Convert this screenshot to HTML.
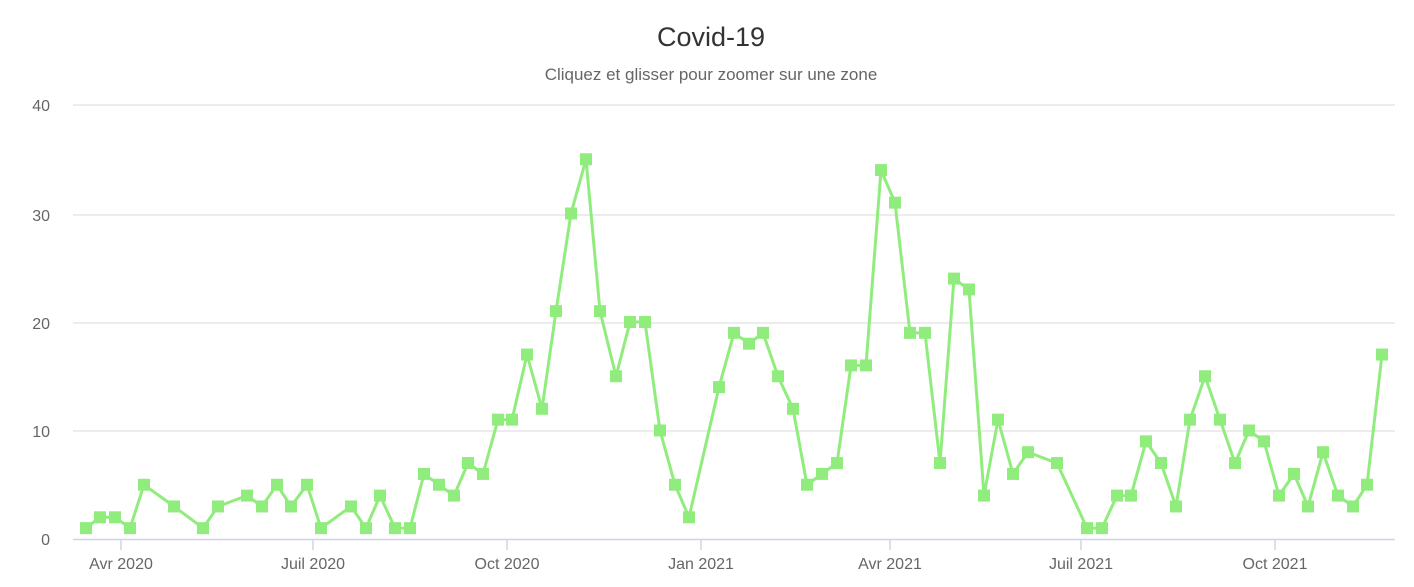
<!DOCTYPE html>
<html><head><meta charset="utf-8"><style>
body{margin:0;background:#fff;}
svg{display:block;font-family:"Liberation Sans","DejaVu Sans",sans-serif;}
</style></head><body>
<svg width="1414" height="587" viewBox="0 0 1414 587">
<rect width="1414" height="587" fill="#fff"/>
<text x="711" y="46" text-anchor="middle" font-size="27" fill="#333">Covid-19</text>
<text x="711" y="80" text-anchor="middle" font-size="17" fill="#666">Cliquez et glisser pour zoomer sur une zone</text>
<g stroke="#e6e6e6" stroke-width="1.5">
<line x1="73" x2="1395" y1="105" y2="105"/>
<line x1="73" x2="1395" y1="215" y2="215"/>
<line x1="73" x2="1395" y1="323" y2="323"/>
<line x1="73" x2="1395" y1="431" y2="431"/>
</g>
<line x1="73" x2="1395" y1="539.5" y2="539.5" stroke="#ccd6eb" stroke-width="1.5"/>
<g stroke="#ccd6eb" stroke-width="1.5">
<line x1="121" x2="121" y1="540" y2="550"/><line x1="313" x2="313" y1="540" y2="550"/>
<line x1="507" x2="507" y1="540" y2="550"/><line x1="701" x2="701" y1="540" y2="550"/>
<line x1="890" x2="890" y1="540" y2="550"/><line x1="1081" x2="1081" y1="540" y2="550"/>
<line x1="1275" x2="1275" y1="540" y2="550"/>
</g>
<g font-size="16" fill="#666" text-anchor="end">
<text x="50" y="111">40</text><text x="50" y="221">30</text><text x="50" y="329">20</text><text x="50" y="437">10</text><text x="50" y="545">0</text>
</g>
<g font-size="16" fill="#666" text-anchor="middle">
<text x="121" y="569">Avr 2020</text><text x="313" y="569">Juil 2020</text><text x="507" y="569">Oct 2020</text>
<text x="701" y="569">Jan 2021</text><text x="890" y="569">Avr 2021</text><text x="1081" y="569">Juil 2021</text><text x="1275" y="569">Oct 2021</text>
</g>
<g id="s"></g>
</svg>
<script>
var d=[[86,1],[100,2],[115,2],[130,1],[144,5],[174,3],[203,1],[218,3],[247,4],[262,3],[277,5],[291,3],[307,5],[321,1],[351,3],[366,1],[380,4],[395,1],[410,1],[424,6],[439,5],[454,4],[468,7],[483,6],[498,11],[512,11],[527,17],[542,12],[556,21],[571,30],[586,35],[600,21],[616,15],[630,20],[645,20],[660,10],[675,5],[689,2],[719,14],[734,19],[749,18],[763,19],[778,15],[793,12],[807,5],[822,6],[837,7],[851,16],[866,16],[881,34],[895,31],[910,19],[925,19],[940,7],[954,24],[969,23],[984,4],[998,11],[1013,6],[1028,8],[1057,7],[1087,1],[1102,1],[1117,4],[1131,4],[1146,9],[1161,7],[1176,3],[1190,11],[1205,15],[1220,11],[1235,7],[1249,10],[1264,9],[1279,4],[1294,6],[1308,3],[1323,8],[1338,4],[1353,3],[1367,5],[1382,17]];
var ns="http://www.w3.org/2000/svg",g=document.getElementById("s");
var pts=d.map(function(p){return p[0]+","+(539-10.85*p[1]).toFixed(1)}).join(" ");
var pl=document.createElementNS(ns,"polyline");
pl.setAttribute("points",pts);pl.setAttribute("fill","none");pl.setAttribute("stroke","#90ed7d");pl.setAttribute("stroke-width","3");pl.setAttribute("stroke-linejoin","round");
g.appendChild(pl);
d.forEach(function(p){var r=document.createElementNS(ns,"rect");var y=539-10.85*p[1];
r.setAttribute("x",p[0]-6);r.setAttribute("y",y-6);r.setAttribute("width",12);r.setAttribute("height",12);r.setAttribute("fill","#90ed7d");g.appendChild(r);});
</script>
</body></html>
